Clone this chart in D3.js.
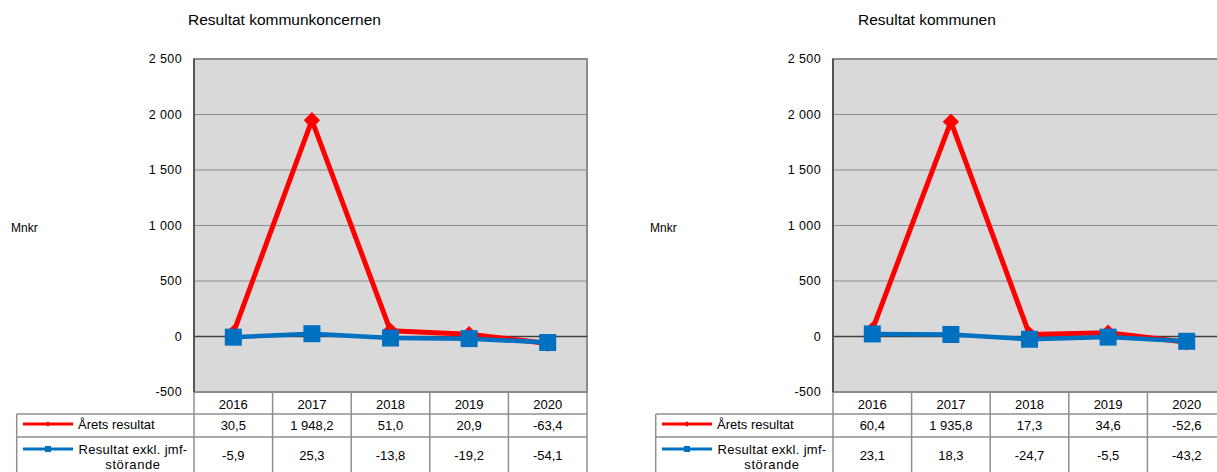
<!DOCTYPE html>
<html><head><meta charset="utf-8">
<script src="https://cdn.jsdelivr.net/npm/d3@7"></script>
<style>
html,body{margin:0;padding:0;background:#fff;}
svg{display:block;font-family:"Liberation Sans",Arial,sans-serif;}
</style></head>
<body><svg id="c" width="1217" height="472"></svg>
<script>
const years = ["2016","2017","2018","2019","2020"];
const yTicks = [-500, 0, 500, 1000, 1500, 2000, 2500];
const seriesNames = ["Årets resultat", "Resultat exkl. jmf-störande"];
const titles = ["Resultat kommunkoncernen", "Resultat kommunen"];
const aretsKoncern = [30.5, 1948.2, 51.0, 20.9, -63.4];
const exklKoncern = [-5.9, 25.3, -13.8, -19.2, -54.1];
const aretsKommun = [60.4, 1935.8, 17.3, 34.6, -52.6];
const exklKommun = [23.1, 18.3, -24.7, -5.5, -43.2];
const yLabel = "Mnkr";

const loc = d3.formatLocale({decimal:",", thousands:"\u00a0", grouping:[3], currency:["","kr"], minus:"-"});
const fmtVal = loc.format(",.1f");
const fmtTick = loc.format(",d");

const svg = d3.select("#c");
const RED = "#ff0000", BLUE = "#0070c0";

function panel(ox, title, titleX, arets, exkl) {
  const g = svg.append("g").attr("transform", `translate(${ox},0)`);
  const x0 = 194, x1 = 587, yTop = 59, yBot = 392;
  const x = d3.scaleBand().domain(years).range([x0, x1]);
  const y = d3.scaleLinear().domain([-500, 2500]).range([yBot, yTop]);

  g.append("text").attr("x", titleX).attr("y", 25).attr("font-size", 15.5).attr("fill", "#000").text(title);

  // plot area
  g.append("rect").attr("x", x0).attr("y", yTop).attr("width", x1 - x0).attr("height", yBot - yTop).attr("fill", "#d9d9d9");
  g.selectAll(".grid").data(yTicks.filter(t => t !== 0 && t !== -500 && t !== 2500)).join("line")
    .attr("x1", x0).attr("x2", x1).attr("y1", d => y(d)).attr("y2", d => y(d))
    .attr("stroke", "#8c8c8c").attr("stroke-width", 1.2);
  g.append("rect").attr("x", x0).attr("y", yTop).attr("width", x1 - x0).attr("height", yBot - yTop)
    .attr("fill", "none").attr("stroke", "#8c8c8c").attr("stroke-width", 2);
  g.append("line").attr("x1", x0).attr("x2", x1).attr("y1", y(0)).attr("y2", y(0)).attr("stroke", "#404040").attr("stroke-width", 1.3);
  g.append("line").attr("x1", x0).attr("x2", x0).attr("y1", yTop).attr("y2", yBot).attr("stroke", "#555").attr("stroke-width", 2);

  // y axis labels
  const ax = g.append("g").attr("transform", `translate(${x0 - 12},0)`)
    .call(d3.axisLeft(y).tickValues(yTicks).tickFormat(fmtTick).tickSize(0).tickPadding(0));
  ax.select(".domain").remove();
  ax.selectAll("text").attr("font-size", 12.5).attr("letter-spacing", 0.4).attr("fill", "#000").attr("font-family", "Liberation Sans, Arial, sans-serif").attr("dy", "0.3em");
  g.append("text").attr("x", 11).attr("y", 232).attr("font-size", 12).attr("fill", "#000").text(yLabel);

  const cx = d => x(d) + x.bandwidth() / 2;
  const line = d3.line().x((d, i) => cx(years[i])).y(d => y(d));

  g.append("path").datum(arets).attr("d", line).attr("fill", "none").attr("stroke", RED).attr("stroke-width", 5).attr("stroke-linejoin", "round");
  g.selectAll(".dm").data(arets).join("path")
    .attr("d", d3.symbol(d3.symbolDiamond2 || d3.symbolDiamond, 170))
    .attr("transform", (d, i) => `translate(${cx(years[i])},${y(d)})`)
    .attr("fill", RED);
  g.append("path").datum(exkl).attr("d", line).attr("fill", "none").attr("stroke", BLUE).attr("stroke-width", 4.5).attr("stroke-linejoin", "round");
  g.selectAll(".sq").data(exkl).join("rect")
    .attr("x", (d, i) => cx(years[i]) - 8.5).attr("y", d => y(d) - 8.5)
    .attr("width", 17).attr("height", 17).attr("fill", BLUE);

  // data table
  const tl = 16.7, r0 = yBot, r1 = 414, r2 = 437, r3 = 480;
  const tc = "#8f8f8f";
  const tg = g.append("g").attr("stroke", tc).attr("stroke-width", 1.5);
  tg.append("line").attr("x1", tl).attr("x2", x1).attr("y1", r1).attr("y2", r1);
  tg.append("line").attr("x1", tl).attr("x2", x1).attr("y1", r2).attr("y2", r2);
  tg.append("line").attr("x1", tl).attr("x2", tl).attr("y1", r1).attr("y2", r3);
  const bounds = years.map(yy => x(yy)).concat([x1]);
  tg.selectAll(".vl").data(bounds).join("line")
    .attr("x1", d => d).attr("x2", d => d).attr("y1", r0).attr("y2", r3);

  const fs = 13;
  g.selectAll(".yr").data(years).join("text")
    .attr("x", d => cx(d)).attr("y", 409).attr("text-anchor", "middle").attr("font-size", fs).attr("fill", "#000").text(d => d);
  g.selectAll(".v1").data(arets).join("text")
    .attr("x", (d, i) => cx(years[i])).attr("y", 430).attr("text-anchor", "middle").attr("font-size", fs).attr("fill", "#000").text(d => fmtVal(d));
  g.selectAll(".v2").data(exkl).join("text")
    .attr("x", (d, i) => cx(years[i])).attr("y", 460).attr("text-anchor", "middle").attr("font-size", fs).attr("fill", "#000").text(d => fmtVal(d));

  // legend keys
  g.append("line").attr("x1", 23).attr("x2", 73).attr("y1", 424).attr("y2", 424).attr("stroke", RED).attr("stroke-width", 3);
  g.append("path").attr("d", d3.symbol(d3.symbolDiamond2 || d3.symbolDiamond, 20)).attr("transform", "translate(48,424)").attr("fill", RED);
  g.append("text").attr("x", 78).attr("y", 429).attr("font-size", fs).attr("fill", "#000").text(seriesNames[0]);
  g.append("line").attr("x1", 23).attr("x2", 73).attr("y1", 449).attr("y2", 449).attr("stroke", BLUE).attr("stroke-width", 3);
  g.append("rect").attr("x", 45).attr("y", 446).attr("width", 6).attr("height", 6).attr("fill", BLUE);
  const parts = seriesNames[1].split("jmf-");
  g.append("text").attr("x", 133).attr("y", 454).attr("text-anchor", "middle").attr("font-size", fs).attr("letter-spacing", 0.3).attr("fill", "#000").text(parts[0] + "jmf-");
  g.append("text").attr("x", 133).attr("y", 469).attr("text-anchor", "middle").attr("font-size", fs).attr("letter-spacing", 0.6).attr("fill", "#000").text(parts[1]);
}

panel(0, titles[0], 188, aretsKoncern, exklKoncern);
panel(639, titles[1], 219, aretsKommun, exklKommun);
</script>
</body></html>
